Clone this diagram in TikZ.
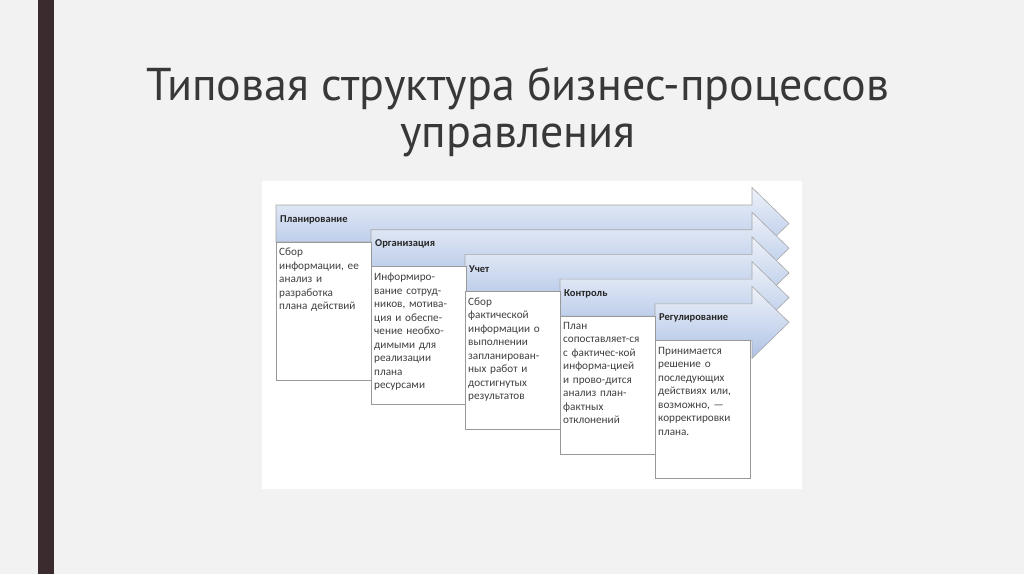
\documentclass[tikz,border=0pt]{standalone}
\usepackage{fontspec}
\setmainfont{Carlito}
\newfontfamily\titlefont{PT Sans}
\definecolor{bartop}{HTML}{EEF2F9}
\definecolor{barbot}{HTML}{AFC3E6}
\definecolor{sidebar}{HTML}{3B2A2E}
\begin{document}
\begin{tikzpicture}[x=1pt,y=-1pt,
  bar/.style={draw=black!35,line width=0.6pt,top color=bartop,bottom color=barbot},
  txtbox/.style={draw=black!40,line width=0.8pt,fill=white},
  head/.style={font=\bfseries\fontsize{10.5}{12}\selectfont,text=black!85,anchor=west,inner sep=0pt},
  body/.style={font=\fontsize{11.2}{13.5}\selectfont,text=black!75,anchor=north west,align=left,text width=92pt,inner sep=0pt}]
\fill[black!5] (0,0) rectangle (1024,574);
\useasboundingbox (0,0) rectangle (1024,574);
\fill[sidebar] (38,0) rectangle (54,574);
\node[font=\titlefont\fontsize{46}{47}\selectfont,text=black!78,align=center] (title) at (518,112) {Типовая структура бизнес-процессов\\управления};
\fill[white] (262,181) rectangle (802,489) node[opacity=0] (panel) {};
\foreach \i/\l/\n in {0/276/Планирование,1/371/Организация,2/465/Учет,3/560/Контроль,4/655/Регулирование}{
  \pgfmathsetmacro\t{205+24.7*\i}
  \pgfmathsetmacro\b{\t+37}
  \pgfmathsetmacro\c{\t+18.5}
  \draw[bar] (\l,\t) -- (752,\t) -- (752,\c-36) -- (789,\c) -- (752,\c+36) -- (752,\b) -- (\l,\b) -- cycle;
  \node[head] (h\i) at (\l+4,\c-4) {\n};
}
\foreach \i/\l in {0/276,1/371,2/465,3/560,4/655}{
  \pgfmathsetmacro\t{242+24.7*\i}
  \draw[txtbox] (\l,\t) rectangle (\l+95,\t+138);
}
\node[body] (b0) at (279,248) {Сбор\\информации, ее\\анализ и\\разработка\\плана действий};
\node[body] (b1) at (374,273) {Информиро-\\вание сотруд-\\ников, мотива-\\ция и обеспе-\\чение необхо-\\димыми для\\реализации\\плана\\ресурсами};
\node[body] (b2) at (468,297.5) {Сбор\\фактической\\информации о\\выполнении\\запланирован-\\ных работ и\\достигнутых\\результатов};
\node[body] (b3) at (563,322) {План\\сопоставляет-ся\\с фактичес-кой\\информа-цией\\и прово-дится\\анализ план-\\фактных\\отклонений};
\node[body] (b4) at (658,346.8) {Принимается\\решение о\\последующих\\действиях или,\\возможно,~—\\корректировки\\плана.};
\end{tikzpicture}
\end{document}
